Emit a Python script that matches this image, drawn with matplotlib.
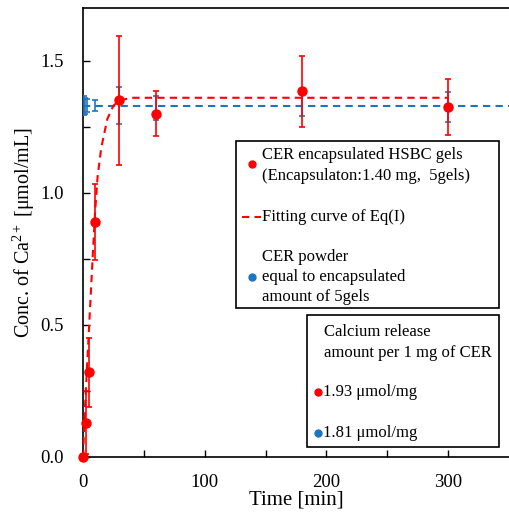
import numpy as np
import matplotlib
matplotlib.use("Agg")
import matplotlib.pyplot as plt
from matplotlib.patches import Rectangle

plt.rcParams['font.family'] = ['Liberation Serif', 'DejaVu Serif']
plt.rcParams['mathtext.fontset'] = 'custom'
plt.rcParams['mathtext.rm'] = 'Liberation Serif'
plt.rcParams['mathtext.it'] = 'Liberation Serif:italic'

# CER encapsulated HSBC gels (red)
gel_time = [0, 2.5, 5, 10, 30, 60, 180, 300]
gel_conc = [0.0, 0.13, 0.32, 0.89, 1.35, 1.30, 1.385, 1.325]
gel_err = [0.01, 0.12, 0.13, 0.145, 0.245, 0.085, 0.135, 0.105]

# fitting curve of Eq(I)
fit_time = [0, 2, 4, 6, 8, 10, 12, 15, 20, 25, 30, 40, 60, 300]
fit_conc = [0.0, 0.22, 0.40, 0.58, 0.76, 0.93, 1.06, 1.17, 1.28, 1.33, 1.35, 1.36, 1.36, 1.36]

# CER powder (blue)
pow_time = [0.5, 1.5, 3, 10, 30, 60, 180, 300]
pow_conc = [1.33, 1.33, 1.33, 1.33, 1.33, 1.32, 1.335, 1.325]
pow_err = [0.035, 0.03, 0.025, 0.02, 0.07, 0.045, 0.045, 0.055]
pow_level = 1.33

red = '#ff0000'
blue = '#1a75c4'

fig = plt.figure(figsize=(5.09, 5.18), dpi=100)
ax = fig.add_axes([0.163, 0.1178, 0.837, 0.8668])

ax.axhline(pow_level, color=blue, ls=(0, (3.5, 2.5)), lw=1.5, zorder=2)
ax.errorbar(pow_time, pow_conc, yerr=pow_err, fmt='none', ecolor=blue,
            elinewidth=1.2, capsize=2, capthick=1.2, zorder=3)
ax.plot(fit_time, fit_conc, color=red, ls=(0, (3.5, 2.5)), lw=1.5, zorder=4)
ax.errorbar(gel_time, gel_conc, yerr=gel_err, fmt='o', color=red, ms=6.5,
            elinewidth=1.2, capsize=2, capthick=1.2, zorder=5, clip_on=False)

ax.set_xlim(0, 350)
ax.set_ylim(0, 1.70)
ax.set_xticks([0, 100, 200, 300])
ax.set_xticks([50, 150, 250], minor=True)
ax.set_yticks([0, 0.5, 1.0, 1.5])
ax.set_yticks([0.25, 0.75, 1.25], minor=True)
ax.set_yticklabels(['0.0', '0.5', '1.0', '1.5'])
ax.tick_params(which='both', direction='in', length=5, width=1, labelsize=13.5)
ax.tick_params(axis='x', pad=12)
ax.tick_params(axis='y', pad=14)
ax.spines['right'].set_visible(False)
for s in ['left', 'bottom', 'top']:
    ax.spines[s].set_linewidth(1.2)

ax.set_xlabel('Time [min]', fontsize=15, labelpad=0)
ax.set_ylabel('Conc. of Ca$^{2+}$ [μmol/mL]', fontsize=14.5, labelpad=2)

# legend boxes drawn in figure pixel coordinates
W, H = 509, 518
def px(x, y):
    return x / W, 1 - y / H

def box(x0, y0, x1, y1):
    fig.add_artist(Rectangle(px(x0, y1), (x1 - x0) / W, (y1 - y0) / H,
                             transform=fig.transFigure, fill=True, fc='white',
                             ec='black', lw=1.2, zorder=10))

def label(x, y, s):
    fig.text(*px(x, y), s, fontsize=12, va='center', ha='left', zorder=11)

def dot(x, y, c):
    fig.add_artist(plt.Line2D([x / W], [1 - y / H], marker='o', color=c, ms=5,
                              transform=fig.transFigure, zorder=11))

box(236, 141, 499, 308)
dot(252, 164, red)
label(262, 155, 'CER encapsulated HSBC gels')
label(262, 176, '(Encapsulaton:1.40 mg,  5gels)')
fig.add_artist(plt.Line2D([242 / W, 261 / W], [1 - 217 / H] * 2, color=red,
                          ls=(0, (3.5, 2.5)), lw=1.5, transform=fig.transFigure, zorder=11))
label(262, 217, 'Fitting curve of Eq(I)')
label(262, 257, 'CER powder')
dot(252, 277, blue)
label(262, 277, 'equal to encapsulated')
label(262, 297, 'amount of 5gels')

box(307, 315, 499, 447)
label(324, 332, 'Calcium release')
label(324, 353, 'amount per 1 mg of CER')
dot(318, 392, red)
label(323, 392, '1.93 μmol/mg')
dot(318, 433, blue)
label(323, 433, '1.81 μmol/mg')

fig.savefig('out.png', dpi=100)
